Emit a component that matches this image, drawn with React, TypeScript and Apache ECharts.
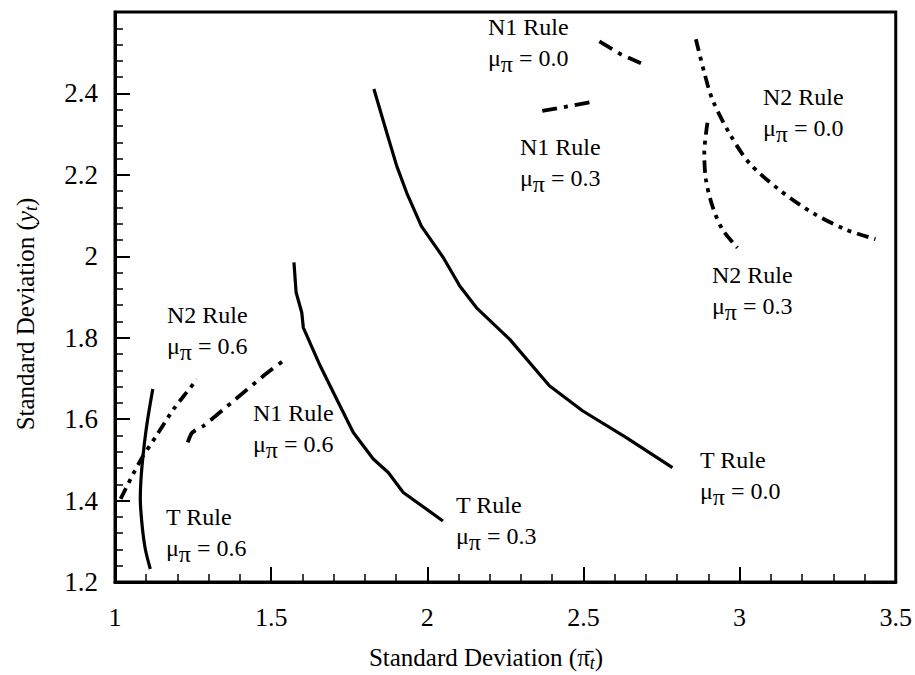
import React, { useEffect, useRef } from "react";
import * as echarts from "echarts";

const FONT = "'Liberation Serif', 'Times New Roman', serif";

// Data (x = std dev of inflation, y = std dev of output)
const tRule00 = [[1.829,2.411],[1.870,2.304],[1.902,2.222],[1.934,2.156],[1.981,2.074],[2.051,1.997],[2.104,1.927],[2.157,1.874],[2.264,1.796],[2.391,1.682],[2.498,1.620],[2.636,1.555],[2.785,1.481]];
const tRule03 = [[1.573,1.985],[1.580,1.911],[1.598,1.862],[1.603,1.825],[1.657,1.731],[1.710,1.649],[1.763,1.567],[1.827,1.502],[1.875,1.469],[1.923,1.420],[2.050,1.350]];
const tRule06 = [[1.121,1.674],[1.103,1.592],[1.092,1.526],[1.084,1.461],[1.081,1.404],[1.087,1.338],[1.097,1.281],[1.113,1.232]];
const n2Rule06 = [[1.018,1.404],[1.050,1.453],[1.087,1.506],[1.129,1.555],[1.188,1.625],[1.263,1.698]];
const n1Rule06 = [[1.233,1.543],[1.247,1.567],[1.284,1.584],[1.380,1.645],[1.475,1.706],[1.550,1.750]];
const n1Rule03 = [[2.368,2.357],[2.455,2.369],[2.538,2.381]];
const n1Rule00 = [[2.551,2.528],[2.620,2.496],[2.684,2.474]];
const n2Rule00 = [[2.860,2.533],[2.887,2.451],[2.913,2.385],[2.966,2.304],[3.030,2.230],[3.126,2.164],[3.233,2.107],[3.339,2.066],[3.435,2.042]];
const n2Rule03 = [[2.897,2.328],[2.887,2.254],[2.892,2.189],[2.913,2.123],[2.945,2.066],[2.993,2.021]];

const xTickValues = [1, 1.5, 2, 2.5, 3, 3.5];
const yTickValues = [1.2, 1.4, 1.6, 1.8, 2, 2.2, 2.4];

const curveNames = ["T Rule μ=0.0", "T Rule μ=0.3", "T Rule μ=0.6", "N1 Rule μ=0.0", "N1 Rule μ=0.3", "N1 Rule μ=0.6", "N2 Rule μ=0.0", "N2 Rule μ=0.3", "N2 Rule μ=0.6"];
const curveData = [tRule00, tRule03, tRule06, n1Rule00, n1Rule03, n1Rule06, n2Rule00, n2Rule03, n2Rule06];
const curveRule = ["T", "T", "T", "N1", "N1", "N1", "N2", "N2", "N2"];
const curveSmooth = [false, false, 0.3, false, false, 0.2, 0.3, 0.3, 0.2];

const annotationRule = ["N1 Rule", "N1 Rule", "N2 Rule", "N2 Rule", "N2 Rule", "N1 Rule", "T Rule", "T Rule", "T Rule"];
const annotationMu = ["0.0", "0.3", "0.0", "0.3", "0.6", "0.6", "0.6", "0.3", "0.0"];

// annotation placement (pixels)
const annotationPos = [[488, 27], [520, 147], [763, 97], [712, 275], [167, 315], [253, 413], [166, 517], [456, 505], [700, 460]];

const dashStyles: Record<string, any> = {
  T: "solid",
  N1: [15, 7, 4, 7],
  N2: [12, 6, 4, 6, 4, 6],
};
const lineWidths: Record<string, number> = { T: 3.2, N1: 3.8, N2: 3.8 };

export default function App() {
  const ref = useRef<HTMLDivElement>(null);
  useEffect(() => {
    if (!ref.current) return;
    const chart = echarts.init(ref.current, null, { renderer: "svg" });

    const labelFont = 24;
    const rich = {
      m: { fontFamily: FONT, fontSize: labelFont, color: "#000" },
      s: { fontFamily: FONT, fontSize: 24, color: "#000", padding: [11, 0, 0, 0] },
    };

    const graphics: any[] = [];
    annotationRule.forEach((r, i) => {
      const [x, y] = annotationPos[i];
      graphics.push({
        type: "text",
        x,
        y,
        style: { text: r, fontFamily: FONT, fontSize: labelFont, fill: "#000", align: "left", verticalAlign: "middle" },
      });
      graphics.push({
        type: "text",
        x,
        y: y + 31,
        style: {
          text: `{m|μ}{s|π}{m| = ${annotationMu[i]}}`,
          rich,
          align: "left",
          verticalAlign: "middle",
        },
      });
    });

    // axis titles
    const titleRich = {
      n: { fontFamily: FONT, fontSize: 25, color: "#000" },
      i: { fontFamily: FONT, fontSize: 25, fontStyle: "italic", color: "#000" },
      s: { fontFamily: FONT, fontSize: 18, fontStyle: "italic", color: "#000", padding: [12, 0, 0, 0] },
    };
    graphics.push({
      type: "text",
      x: 486,
      y: 657,
      style: {
        text: "{n|Standard Deviation (}{n|π\u0304}{s|t}{n|)}",
        rich: titleRich,
        align: "center",
        verticalAlign: "middle",
      },
    });
    graphics.push({
      type: "text",
      x: 25,
      y: 314,
      rotation: Math.PI / 2,
      style: {
        text: "{n|Standard Deviation (}{i|y}{s|t}{n|)}",
        rich: titleRich,
        align: "center",
        verticalAlign: "middle",
      },
    });

    const series = curveData.map((d, i) => ({
      name: curveNames[i],
      type: "line",
      data: d,
      showSymbol: false,
      symbol: "none",
      smooth: curveSmooth[i],
      lineStyle: { color: "#000", width: lineWidths[curveRule[i]], type: dashStyles[curveRule[i]] },
      silent: true,
    }));

    chart.setOption({
      animation: false,
      backgroundColor: "#fff",
      grid: { left: 115, right: 17, top: 12, bottom: 93, show: true, borderColor: "#000", borderWidth: 3, backgroundColor: "transparent" },
      xAxis: {
        type: "value",
        min: 1,
        max: 3.5,
        interval: 0.5,
        axisLine: { show: true, lineStyle: { color: "#000", width: 3 } },
        axisTick: { show: true, inside: true, length: 15, lineStyle: { color: "#000", width: 2 } },
        minorTick: { show: true, splitNumber: 5, length: 8, lineStyle: { color: "#000", width: 1.5 } },
        splitLine: { show: false },
        axisLabel: {
          color: "#000",
          fontFamily: FONT,
          fontSize: 26,
          margin: 22,
          formatter: (v: number) => {
            const t = xTickValues.find((k) => Math.abs(k - v) < 1e-6);
            return t === undefined ? "" : String(t);
          },
        },
      },
      yAxis: {
        type: "value",
        min: 1.2,
        max: 2.6,
        interval: 0.2,
        axisLine: { show: true, lineStyle: { color: "#000", width: 3 } },
        axisTick: { show: true, inside: true, length: 15, lineStyle: { color: "#000", width: 2 } },
        minorTick: { show: true, splitNumber: 5, length: 8, lineStyle: { color: "#000", width: 1.5 } },
        splitLine: { show: false },
        axisLabel: {
          color: "#000",
          fontFamily: FONT,
          fontSize: 27,
          margin: 17,
          formatter: (v: number) => {
            const t = yTickValues.find((k) => Math.abs(k - v) < 1e-6);
            return t === undefined ? "" : String(t);
          },
        },
      },
      series,
      graphic: graphics,
    });

    return () => chart.dispose();
  }, []);

  return <div ref={ref} style={{ position: "fixed", left: 0, top: 0, width: 915, height: 675, background: "#fff" }} />;
}
